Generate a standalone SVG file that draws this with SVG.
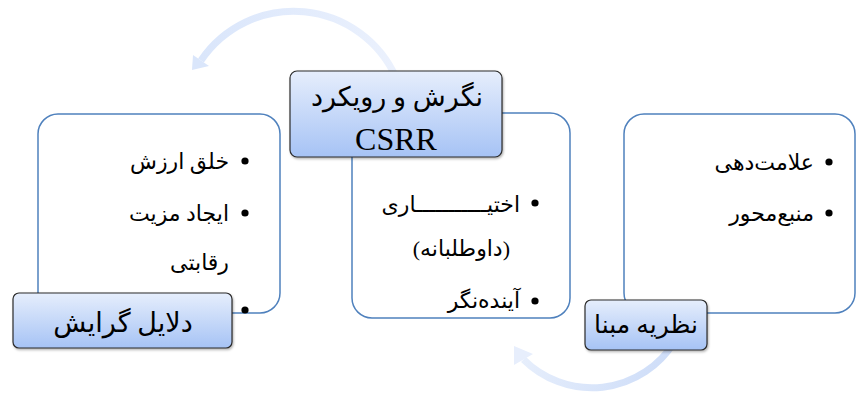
<svg xmlns="http://www.w3.org/2000/svg" width="856" height="396" viewBox="0 0 856 396">
<defs>
<linearGradient id="tg" x1="0" y1="0" x2="0" y2="1">
<stop offset="0" stop-color="#e6eefc"/>
<stop offset="1" stop-color="#a6c3f5"/>
</linearGradient>
<linearGradient id="ag1" x1="0" y1="0" x2="1" y2="0">
<stop offset="0" stop-color="#dae6fb"/>
<stop offset="1" stop-color="#ebf1fd"/>
</linearGradient>
<linearGradient id="ag2" gradientUnits="userSpaceOnUse" x1="510" y1="340" x2="680" y2="390">
<stop offset="0" stop-color="#e9f0fc"/>
<stop offset="1" stop-color="#cbdbf8"/>
</linearGradient>
<filter id="sh" x="-10%" y="-10%" width="130%" height="140%">
<feDropShadow dx="1" dy="1.5" stdDeviation="1" flood-color="#000" flood-opacity="0.3"/>
</filter>
</defs>
<style>
.cbox{fill:#ffffff;stroke:#4f81bd;stroke-width:1.5}
.tbox{fill:url(#tg);stroke:#2b2b2b;stroke-width:1.2}
.t{font-family:"Liberation Serif","DejaVu Sans",sans-serif;fill:#000}
.b{font-size:22px;text-anchor:end}
.h{text-anchor:middle}
.dot{fill:#000}
</style>
<g id="connectors">
<path d="M 396.5 78.7 A 112 112 0 0 0 201 60.5" fill="none" stroke="url(#ag1)" stroke-width="7"/>
<polygon points="192,70 193,55 209,66" fill="#dae6fb"/>
<path d="M 674 342.5 A 97 97 0 0 1 523.5 359.5" fill="none" stroke="url(#ag2)" stroke-width="7"/>
<polygon points="514,346 533,354 514,365" fill="#e7eefc"/>
</g>
<g id="node-reasons">
<rect class="cbox" x="38" y="114" width="242" height="199" rx="20"/>
<circle class="dot" cx="245" cy="161" r="3.6"/>
<text class="t b" x="229" y="169">خلق ارزش</text>
<circle class="dot" cx="245" cy="213" r="3.6"/>
<text class="t b" x="229" y="221">ایجاد مزیت</text>
<text class="t b" x="229" y="270" font-size="20">رقابتی</text>
<circle class="dot" cx="245" cy="310" r="3.6"/>
<rect class="tbox" filter="url(#sh)" x="13" y="293" width="219" height="55" rx="6"/>
<text class="t h" x="123" y="332" font-size="27">دلایل گرایش</text>
</g>
<g id="node-csrr">
<rect class="cbox" x="352" y="113" width="218" height="205" rx="20"/>
<circle class="dot" cx="535" cy="203" r="3.6"/>
<text class="t b" x="520" y="212">اختیـــــــــــاری</text>
<text class="t b" x="510" y="256" font-size="19">(داوطلبانه)</text>
<circle class="dot" cx="535" cy="301" r="3.6"/>
<text class="t b" x="520" y="308" font-size="21">آینده‌نگر</text>
<rect class="tbox" filter="url(#sh)" x="290" y="71" width="212" height="86" rx="7"/>
<text class="t h" x="397" y="106" font-size="27">نگرش و رویکرد</text>
<text class="t h" x="396" y="150" font-size="32">CSRR</text>
</g>
<g id="node-theory">
<rect class="cbox" x="624" y="114" width="231" height="199" rx="20"/>
<circle class="dot" cx="829" cy="162" r="3.6"/>
<text class="t b" x="814" y="170">علامت‌دهی</text>
<circle class="dot" cx="829" cy="213" r="3.6"/>
<text class="t b" x="814" y="221">منبع‌محور</text>
<rect class="tbox" filter="url(#sh)" x="585" y="300" width="122" height="50" rx="6"/>
<text class="t h" x="646" y="333" font-size="25">نظریه مبنا</text>
</g>
</svg>
